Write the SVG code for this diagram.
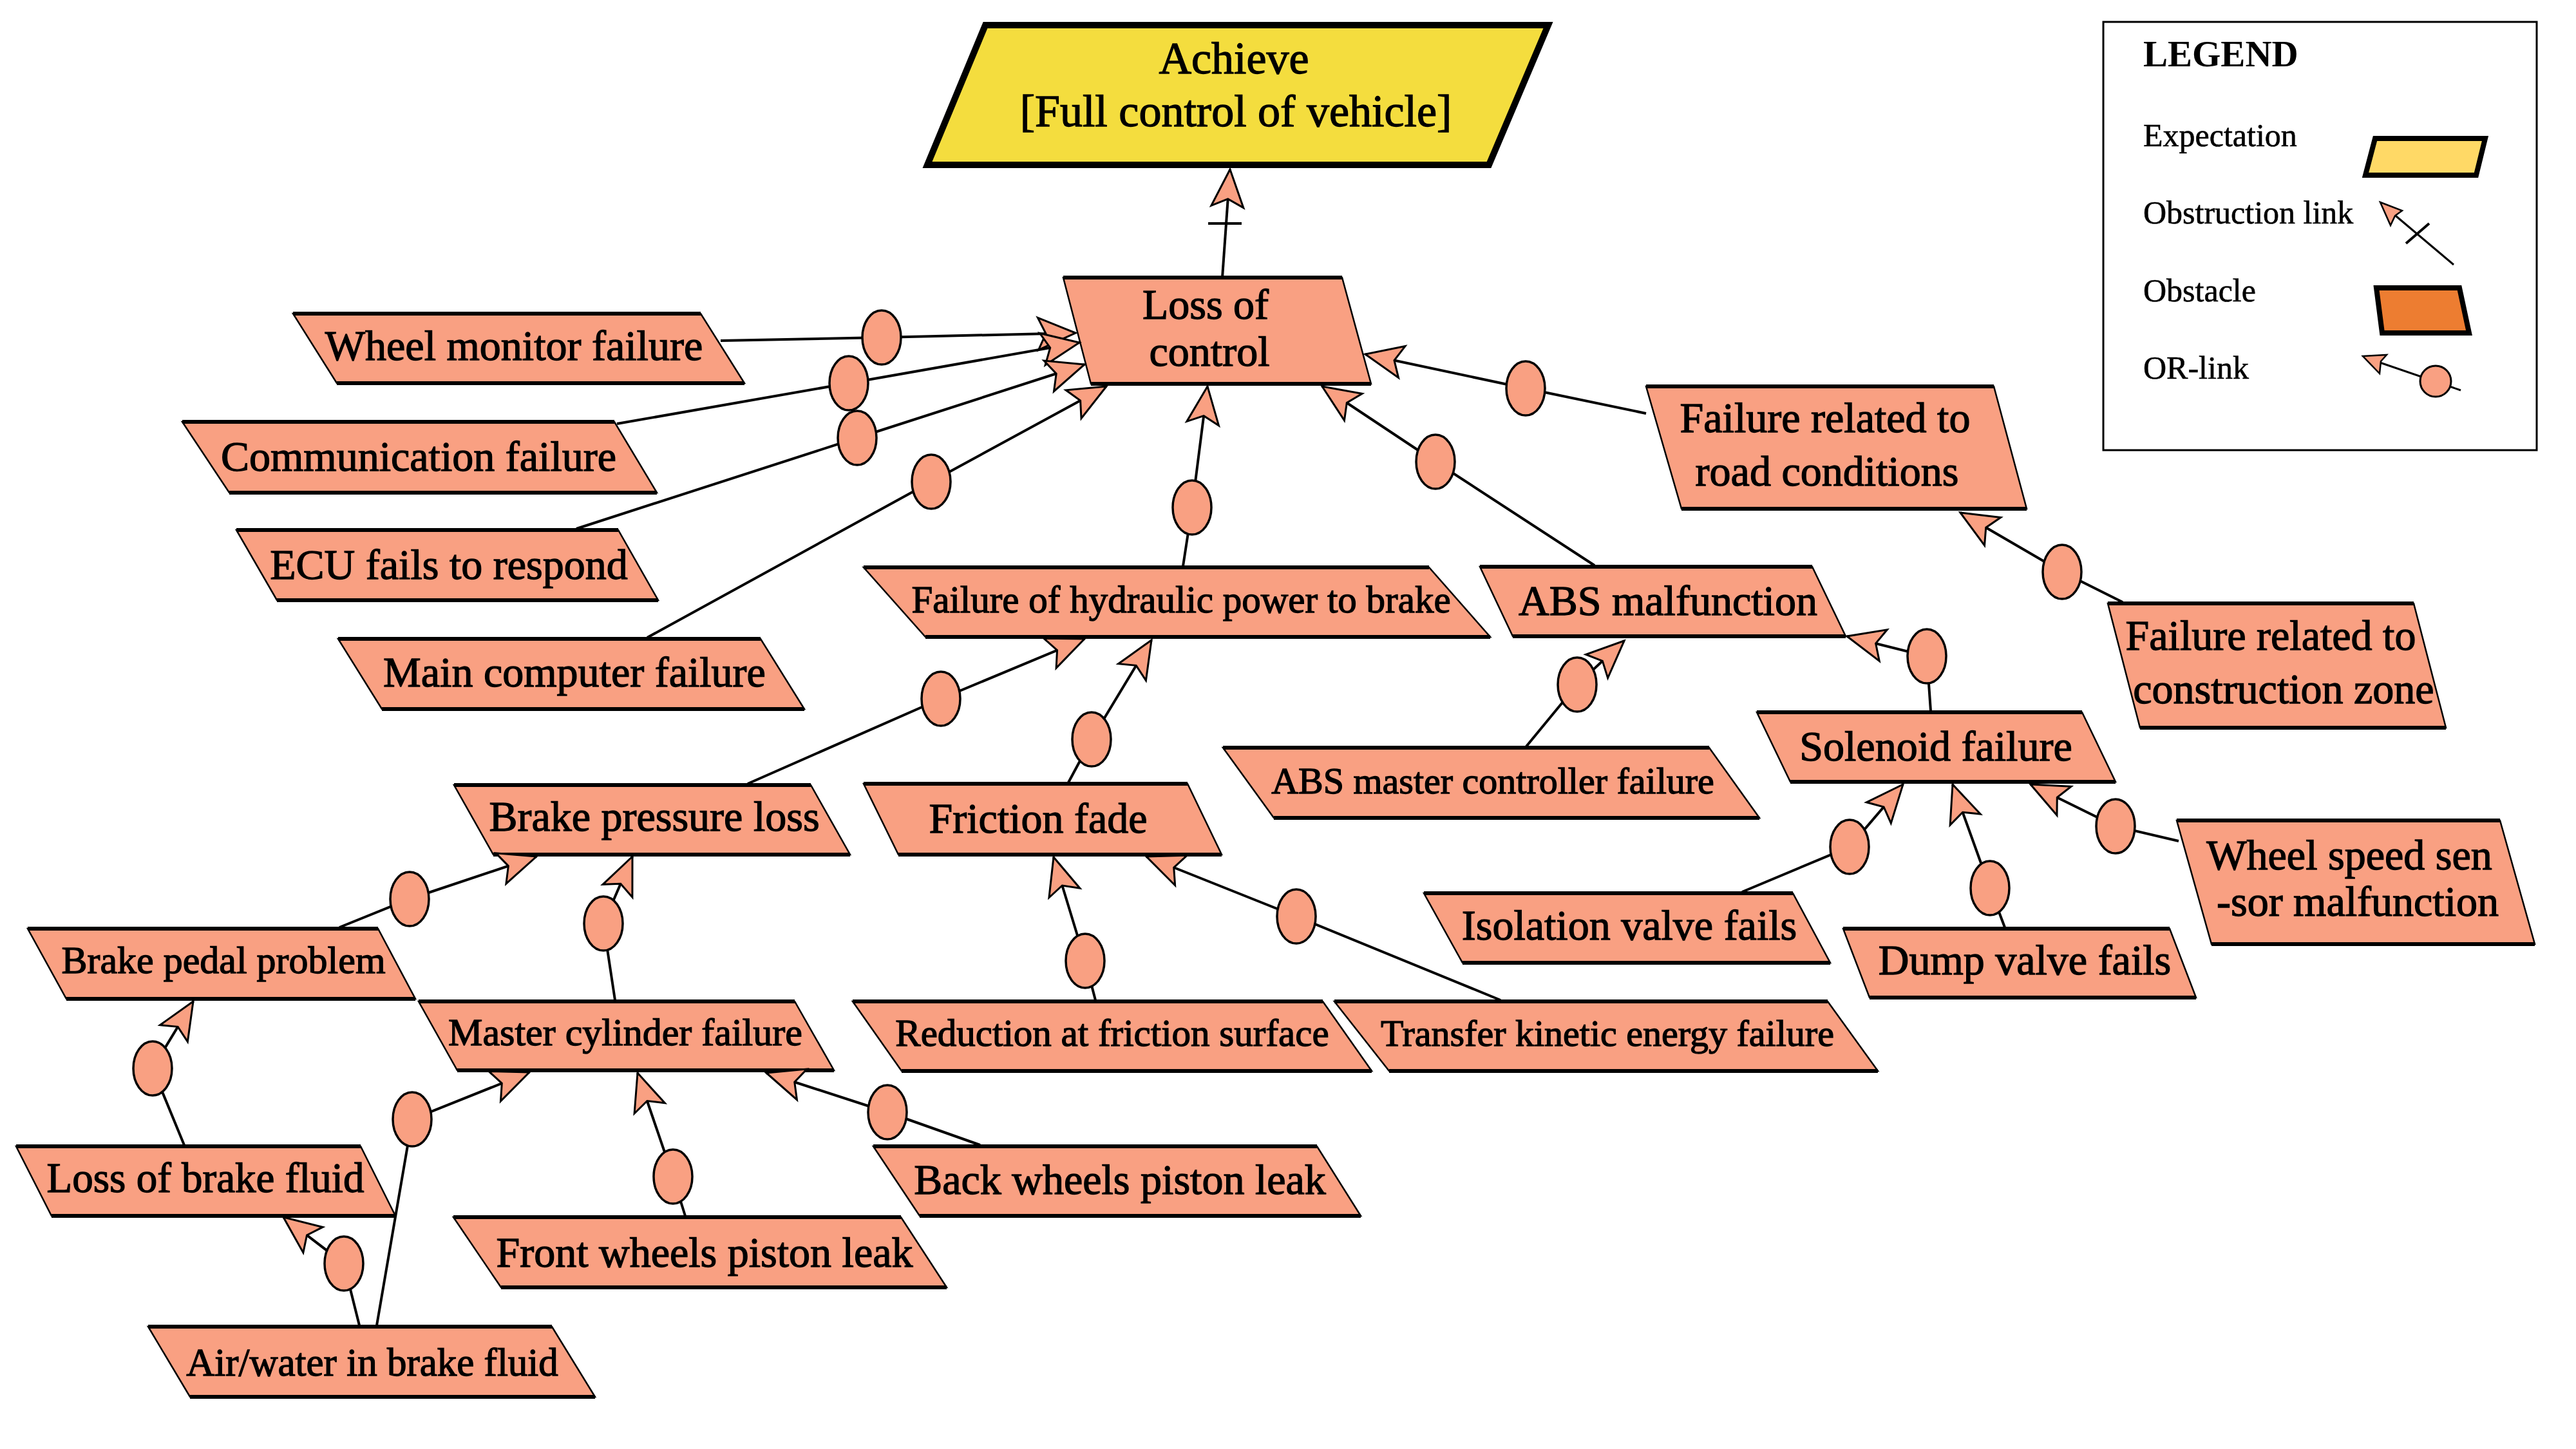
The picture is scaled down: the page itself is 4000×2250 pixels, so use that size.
<svg xmlns="http://www.w3.org/2000/svg" width="4000" height="2250" viewBox="0 0 4000 2250">
<defs>
<style>
.obs{fill:#F9A082;stroke:#000;stroke-width:2.5;stroke-linejoin:miter}
.edge{fill:none;stroke:#000;stroke-width:6}
.t{font-family:"Liberation Serif","Times New Roman",serif;font-size:66px;fill:#000;stroke:#000;stroke-width:1.3;text-anchor:middle}
.s{font-size:59px}
.lk{fill:none;stroke:#000;stroke-width:4}
.orc{fill:#F9A082;stroke:#000;stroke-width:3.5}
.lt{font-family:"Liberation Serif","Times New Roman",serif;font-size:50px;fill:#000;stroke:#000;stroke-width:0.6}
</style>
<marker id="ah" markerUnits="userSpaceOnUse" viewBox="-64 -30 68 60" markerWidth="68" markerHeight="60" refX="0" refY="0" orient="auto" overflow="visible">
<path d="M0,0 L-58,-25 L-46,0 L-58,25 Z" fill="#F9A082" stroke="#000" stroke-width="3" stroke-linejoin="miter"/>
</marker>
</defs>
<rect width="4000" height="2250" fill="#fff"/>

<g id="nodes">
<g id="achieve">
<polygon points="1530,39 2404,39 2312,256 1440,256" fill="#F4DD3E" stroke="#000" stroke-width="10"/>
<text class="t" x="1916" y="114" style="font-size:70px">Achieve</text>
<text class="t" x="1919" y="196" style="font-size:70px">[Full control of vehicle]</text>
</g>
<g id="loss-of-control">
<polygon class="obs" points="1651,431 2084,431 2129,596 1694,596"/>
<path class="edge" d="M1651,431H2084M1694,596H2129"/>
<text class="t" x="1872" y="495">Loss of</text>
<text class="t" x="1878" y="568">control</text>
</g>
<g id="wheel-monitor">
<polygon class="obs" points="455,487 1088,487 1156,595 523,595"/>
<path class="edge" d="M455,487H1088M523,595H1156"/>
<text class="t" x="798" y="559">Wheel monitor failure</text>
</g>
<g id="communication">
<polygon class="obs" points="283,655 954,655 1020,765 356,765"/>
<path class="edge" d="M283,655H954M356,765H1020"/>
<text class="t" x="650" y="731">Communication failure</text>
</g>
<g id="ecu">
<polygon class="obs" points="367,823 960,823 1022,932 430,932"/>
<path class="edge" d="M367,823H960M430,932H1022"/>
<text class="t" x="697" y="899">ECU fails to respond</text>
</g>
<g id="main-computer">
<polygon class="obs" points="525,992 1181,992 1249,1101 593,1101"/>
<path class="edge" d="M525,992H1181M593,1101H1249"/>
<text class="t" x="892" y="1066">Main computer failure</text>
</g>
<g id="hydraulic">
<polygon class="obs" points="1341,881 2219,881 2314,989 1437,989"/>
<path class="edge" d="M1341,881H2219M1437,989H2314"/>
<text class="t s" x="1834" y="951">Failure of hydraulic power to brake</text>
</g>
<g id="abs-malfunction">
<polygon class="obs" points="2298,880 2814,880 2866,988 2349,988"/>
<path class="edge" d="M2298,880H2814M2349,988H2866"/>
<text class="t" x="2590" y="955">ABS malfunction</text>
</g>
<g id="road-conditions">
<polygon class="obs" points="2556,600 3096,600 3147,790 2611,790"/>
<path class="edge" d="M2556,600H3096M2611,790H3147"/>
<text class="t" x="2834" y="671">Failure related to</text>
<text class="t" x="2837" y="754">road conditions</text>
</g>
<g id="construction-zone">
<polygon class="obs" points="3273,937 3748,937 3798,1130 3323,1130"/>
<path class="edge" d="M3273,937H3748M3323,1130H3798"/>
<text class="t" x="3526" y="1009">Failure related to</text>
<text class="t" x="3546" y="1092">construction zone</text>
</g>
<g id="solenoid">
<polygon class="obs" points="2728,1106 3233,1106 3285,1214 2780,1214"/>
<path class="edge" d="M2728,1106H3233M2780,1214H3285"/>
<text class="t" x="3006" y="1181">Solenoid failure</text>
</g>
<g id="abs-master">
<polygon class="obs" points="1899,1161 2654,1161 2732,1270 1978,1270"/>
<path class="edge" d="M1899,1161H2654M1978,1270H2732"/>
<text class="t" x="2318" y="1232" style="font-size:58px">ABS master controller failure</text>
</g>
<g id="friction-fade">
<polygon class="obs" points="1341,1217 1844,1217 1897,1327 1395,1327"/>
<path class="edge" d="M1341,1217H1844M1395,1327H1897"/>
<text class="t" x="1612" y="1293">Friction fade</text>
</g>
<g id="brake-pressure">
<polygon class="obs" points="705,1219 1259,1219 1320,1327 766,1327"/>
<path class="edge" d="M705,1219H1259M766,1327H1320"/>
<text class="t" x="1016" y="1290">Brake pressure loss</text>
</g>
<g id="isolation">
<polygon class="obs" points="2211,1387 2784,1387 2842,1495 2271,1495"/>
<path class="edge" d="M2211,1387H2784M2271,1495H2842"/>
<text class="t" x="2530" y="1459">Isolation valve fails</text>
</g>
<g id="dump">
<polygon class="obs" points="2862,1442 3369,1442 3410,1549 2903,1549"/>
<path class="edge" d="M2862,1442H3369M2903,1549H3410"/>
<text class="t" x="3144" y="1513">Dump valve fails</text>
</g>
<g id="wheel-speed">
<polygon class="obs" points="3380,1274 3882,1274 3936,1466 3434,1466"/>
<path class="edge" d="M3380,1274H3882M3434,1466H3936"/>
<text class="t" x="3648" y="1350">Wheel speed sen</text>
<text class="t" x="3661" y="1422">-sor malfunction</text>
</g>
<g id="brake-pedal">
<polygon class="obs" points="43,1442 587,1442 645,1551 103,1551"/>
<path class="edge" d="M43,1442H587M103,1551H645"/>
<text class="t" x="347" y="1511" style="font-size:60px">Brake pedal problem</text>
</g>
<g id="master-cylinder">
<polygon class="obs" points="650,1555 1234,1555 1295,1662 710,1662"/>
<path class="edge" d="M650,1555H1234M710,1662H1295"/>
<text class="t" x="971" y="1623" style="font-size:60px">Master cylinder failure</text>
</g>
<g id="reduction">
<polygon class="obs" points="1324,1555 2054,1555 2130,1663 1400,1663"/>
<path class="edge" d="M1324,1555H2054M1400,1663H2130"/>
<text class="t s" x="1727" y="1624">Reduction at friction surface</text>
</g>
<g id="transfer">
<polygon class="obs" points="2072,1555 2838,1555 2916,1663 2157,1663"/>
<path class="edge" d="M2072,1555H2838M2157,1663H2916"/>
<text class="t" x="2496" y="1624" style="font-size:58px">Transfer kinetic energy failure</text>
</g>
<g id="back-wheels">
<polygon class="obs" points="1356,1780 2045,1780 2113,1888 1428,1888"/>
<path class="edge" d="M1356,1780H2045M1428,1888H2113"/>
<text class="t" x="1739" y="1854">Back wheels piston leak</text>
</g>
<g id="loss-brake-fluid">
<polygon class="obs" points="25,1780 560,1780 614,1888 80,1888"/>
<path class="edge" d="M25,1780H560M80,1888H614"/>
<text class="t" x="319" y="1851" style="font-size:65px">Loss of brake fluid</text>
</g>
<g id="front-wheels">
<polygon class="obs" points="704,1890 1399,1890 1470,1999 778,1999"/>
<path class="edge" d="M704,1890H1399M778,1999H1470"/>
<text class="t" x="1094" y="1967">Front wheels piston leak</text>
</g>
<g id="air-water">
<polygon class="obs" points="230,2060 857,2060 924,2169 295,2169"/>
<path class="edge" d="M230,2060H857M295,2169H924"/>
<text class="t" x="578" y="2136" style="font-size:61px">Air/water in brake fluid</text>
</g>
</g>

<g id="connectors">
<path class="lk" d="M1898,431L1910,263" marker-end="url(#ah)"/>
<path class="lk" d="M1876,347H1928" stroke-width="6"/>
<path class="lk" d="M1119,529L1369,524L1670,517" marker-end="url(#ah)"/>
<path class="lk" d="M958,658L1318,595L1676,532" marker-end="url(#ah)"/>
<path class="lk" d="M895,821L1331,680L1684,566" marker-end="url(#ah)"/>
<path class="lk" d="M1005,990L1446,748L1718,600" marker-end="url(#ah)"/>
<path class="lk" d="M1837,879L1851,788L1875,600" marker-end="url(#ah)"/>
<path class="lk" d="M2476,878L2229,717L2053,600" marker-end="url(#ah)"/>
<path class="lk" d="M2556,642L2369,603L2120,550" marker-end="url(#ah)"/>
<path class="lk" d="M1161,1217L1461,1085L1684,992" marker-end="url(#ah)"/>
<path class="lk" d="M1659,1215L1695,1148L1788,994" marker-end="url(#ah)"/>
<path class="lk" d="M2370,1159L2449,1063L2522,995" marker-end="url(#ah)"/>
<path class="lk" d="M2998,1104L2992,1019L2868,988" marker-end="url(#ah)"/>
<path class="lk" d="M3296,935L3202,888L3044,796" marker-end="url(#ah)"/>
<path class="lk" d="M2705,1385L2872,1315L2955,1218" marker-end="url(#ah)"/>
<path class="lk" d="M3113,1440L3090,1379L3032,1218" marker-end="url(#ah)"/>
<path class="lk" d="M3383,1306L3285,1283L3153,1218" marker-end="url(#ah)"/>
<path class="lk" d="M1701,1553L1685,1492L1636,1331" marker-end="url(#ah)"/>
<path class="lk" d="M2330,1553L2013,1423L1780,1330" marker-end="url(#ah)"/>
<path class="lk" d="M527,1440L636,1396L833,1330" marker-end="url(#ah)"/>
<path class="lk" d="M955,1553L937,1434L982,1330" marker-end="url(#ah)"/>
<path class="lk" d="M286,1778L237,1659L300,1555" marker-end="url(#ah)"/>
<path class="lk" d="M585,2058L640,1738L822,1665" marker-end="url(#ah)"/>
<path class="lk" d="M558,2058L534,1962L440,1890" marker-end="url(#ah)"/>
<path class="lk" d="M1064,1888L1045,1827L990,1666" marker-end="url(#ah)"/>
<path class="lk" d="M1522,1778L1378,1727L1190,1666" marker-end="url(#ah)"/>
<ellipse class="orc" cx="1369" cy="524" rx="30" ry="42"/>
<ellipse class="orc" cx="1318" cy="595" rx="30" ry="42"/>
<ellipse class="orc" cx="1331" cy="680" rx="30" ry="42"/>
<ellipse class="orc" cx="1446" cy="748" rx="30" ry="42"/>
<ellipse class="orc" cx="1851" cy="788" rx="30" ry="42"/>
<ellipse class="orc" cx="2229" cy="717" rx="30" ry="42"/>
<ellipse class="orc" cx="2369" cy="603" rx="30" ry="42"/>
<ellipse class="orc" cx="1461" cy="1085" rx="30" ry="42"/>
<ellipse class="orc" cx="1695" cy="1148" rx="30" ry="42"/>
<ellipse class="orc" cx="2449" cy="1063" rx="30" ry="42"/>
<ellipse class="orc" cx="2992" cy="1019" rx="30" ry="42"/>
<ellipse class="orc" cx="3202" cy="888" rx="30" ry="42"/>
<ellipse class="orc" cx="2872" cy="1315" rx="30" ry="42"/>
<ellipse class="orc" cx="3090" cy="1379" rx="30" ry="42"/>
<ellipse class="orc" cx="3285" cy="1283" rx="30" ry="42"/>
<ellipse class="orc" cx="1685" cy="1492" rx="30" ry="42"/>
<ellipse class="orc" cx="2013" cy="1423" rx="30" ry="42"/>
<ellipse class="orc" cx="636" cy="1396" rx="30" ry="42"/>
<ellipse class="orc" cx="937" cy="1434" rx="30" ry="42"/>
<ellipse class="orc" cx="237" cy="1659" rx="30" ry="42"/>
<ellipse class="orc" cx="640" cy="1738" rx="30" ry="42"/>
<ellipse class="orc" cx="534" cy="1962" rx="30" ry="42"/>
<ellipse class="orc" cx="1045" cy="1827" rx="30" ry="42"/>
<ellipse class="orc" cx="1378" cy="1727" rx="30" ry="42"/>
</g>

<g id="legend">
<rect x="3266" y="34" width="673" height="665" fill="#fff" stroke="#000" stroke-width="3"/>
<text x="3328" y="103" style="font-family:'Liberation Serif','Times New Roman',serif;font-size:57px;font-weight:bold">LEGEND</text>
<text class="lt" x="3328" y="227">Expectation</text>
<text class="lt" x="3328" y="347">Obstruction link</text>
<text class="lt" x="3328" y="468">Obstacle</text>
<text class="lt" x="3328" y="588">OR-link</text>
<polygon points="3688,215 3859,215 3845,272 3673,272" fill="#FFD966" stroke="#000" stroke-width="8"/>
<line x1="3810" y1="411" x2="3708" y2="325" stroke="#000" stroke-width="3"/>
<line x1="3736" y1="378" x2="3772" y2="347" stroke="#000" stroke-width="4"/>
<path d="M3696,314 L3730,327 L3719,335 L3712,350 Z" fill="#F9A082" stroke="#000" stroke-width="2.5"/>
<polygon points="3690,447 3819,447 3834,517 3699,517" fill="#ED7D31" stroke="#000" stroke-width="8"/>
<line x1="3821" y1="606" x2="3684" y2="559" stroke="#000" stroke-width="3"/>
<path d="M3669,553 L3706,551 L3697,561 L3695,580 Z" fill="#F9A082" stroke="#000" stroke-width="2.5"/>
<circle cx="3782" cy="592" r="24" fill="#F9A082" stroke="#000" stroke-width="3"/>
</g>
</svg>
